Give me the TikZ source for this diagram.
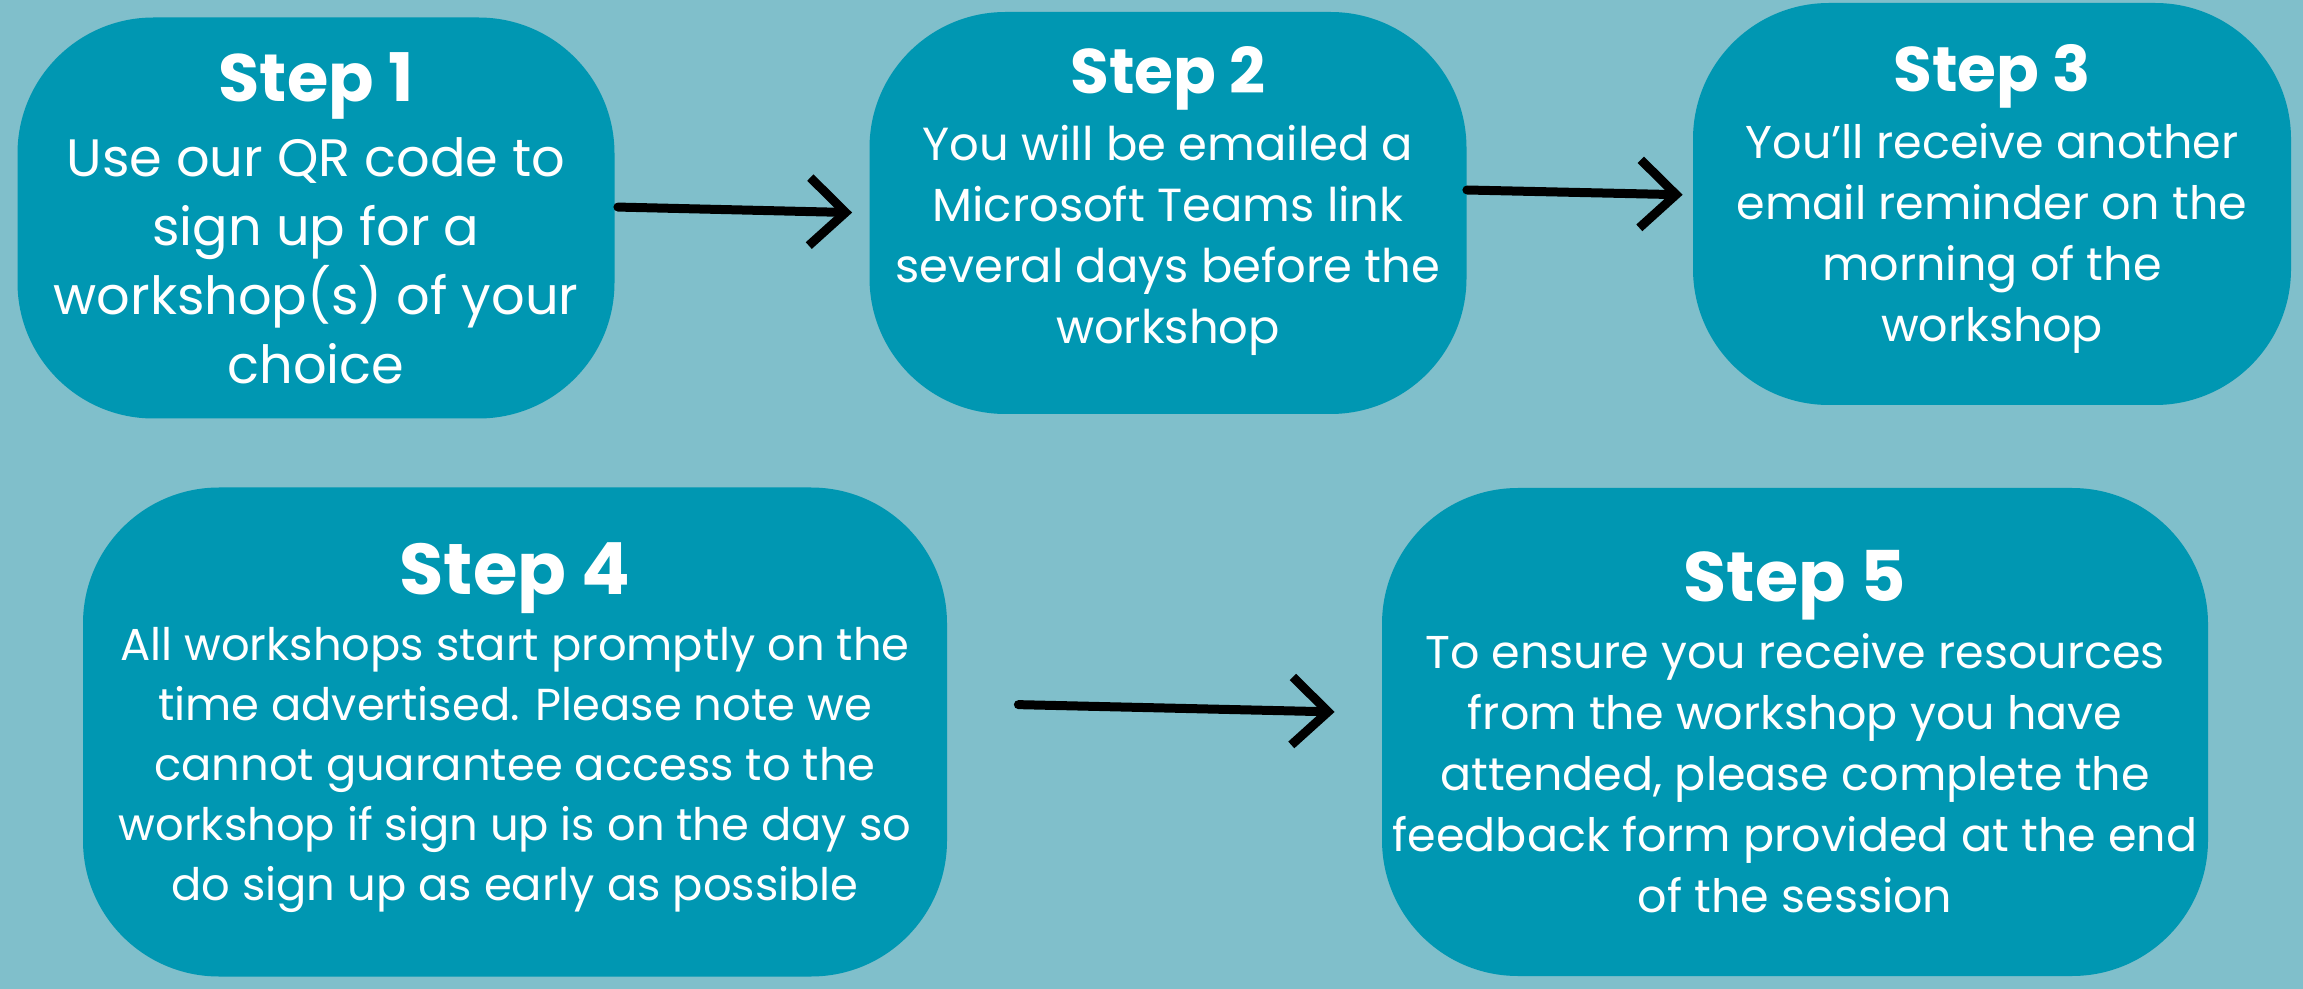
\documentclass[tikz,border=0pt]{standalone}
\usepackage{fontspec}
\setmainfont{Poppins}
\usetikzlibrary{arrows.meta}
\definecolor{bgteal}{HTML}{80BFCB}
\definecolor{boxteal}{HTML}{0097B2}
\tikzset{
  stepbox/.style={rectangle, fill=boxteal, rounded corners=68pt, inner sep=0pt},
  steptext/.style={text=white, align=center, inner sep=0pt},
  brush/.style={line width=4.5pt, line cap=round, line join=round, -{Straight Barb[length=18pt,width=34pt]}},
}
\newcommand{\stephead}[2]{{\fontsize{#1}{40}\selectfont\bfseries #2}}

\begin{document}
\begin{tikzpicture}[x=0.5pt, y=-0.5pt]
\fill[bgteal] (0,0) rectangle (2303,989);
\node[stepbox, minimum width=298.5pt, minimum height=200.5pt] (s1) at (316,218) {};
\node[stepbox, minimum width=298.5pt, minimum height=201pt] (s2) at (1168,213) {};
\node[stepbox, minimum width=299pt, minimum height=201pt] (s3) at (1992,204) {};
\node[stepbox, minimum width=432pt, minimum height=244.5pt] (s4) at (515,732) {};
\node[stepbox, minimum width=413pt, minimum height=244pt] (s5) at (1795,732) {};

\node[steptext, font=\fontsize{26.3}{34.5}\selectfont] (t1) at (s1)
  {\stephead{33.5}{Step 1}\\[3pt] Use our QR code to\\sign up for a\\workshop(s) of your\\choice};
\node[steptext, font=\fontsize{23.2}{30.5}\selectfont, yshift=5.9pt] (t2) at (s2)
  {\stephead{31.5}{Step 2}\\[3pt] You will be emailed a\\Microsoft Teams link\\several days before the\\workshop};
\node[steptext, font=\fontsize{23}{30.5}\selectfont, yshift=2.6pt] (t3) at (s3)
  {\stephead{31.5}{Step 3}\\[3pt] You’ll receive another\\email reminder on the\\morning of the\\workshop};
\node[steptext, font=\fontsize{22.4}{30}\selectfont, yshift=2.2pt] (t4) at (s4)
  {\stephead{36}{Step 4}\\[3pt] All workshops start promptly on the\\time advertised. Please note we\\cannot guarantee access to the\\workshop if sign up is on the day so\\do sign up as early as possible};
\node[steptext, font=\fontsize{23}{30.5}\selectfont] (t5) at (s5)
  {\stephead{35}{Step 5}\\[3pt] To ensure you receive resources\\from the workshop you have\\attended, please complete the\\feedback form provided at the end\\of the session};

\draw[brush, shorten <=1.5pt, shorten >=8.5pt] ([yshift=5.5pt]s1.east) -- (s2.west);
\draw[brush, shorten >=5pt] ([yshift=11.5pt]s2.east) -- ([yshift=4.5pt]s3.west);
\draw[brush, shorten <=35.5pt, shorten >=23.5pt] ([yshift=14.5pt]s4.east) -- ([yshift=9.5pt]s5.west);
\end{tikzpicture}
\end{document}
